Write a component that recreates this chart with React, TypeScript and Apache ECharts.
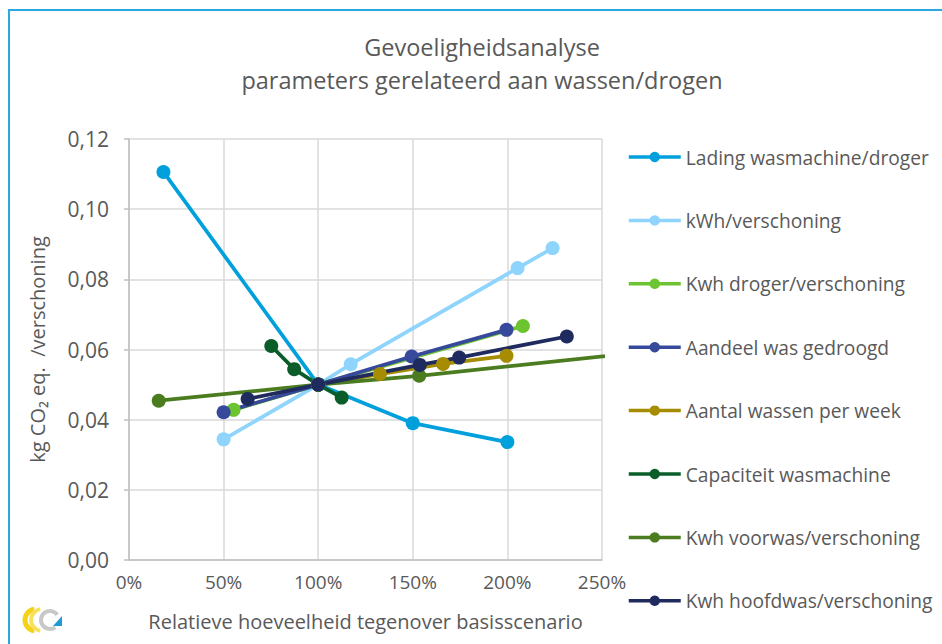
import React, { useEffect, useRef } from "react";
import * as echarts from "echarts";

const seriesNames = [
  "Lading wasmachine/droger",
  "kWh/verschoning",
  "Kwh droger/verschoning",
  "Aandeel was gedroogd",
  "Aantal wassen per week",
  "Capaciteit wasmachine",
  "Kwh voorwas/verschoning",
  "Kwh hoofdwas/verschoning",
];
const seriesColors = ["#00A0DC", "#8ED4FD", "#6CC430", "#36499A", "#A58C00", "#0A5C29", "#4B7C20", "#1F2B5E"];

const ladingX = [18.2, 100, 150, 200];
const ladingY = [0.1106, 0.05, 0.039, 0.0336];
const kwhX = [50, 100, 117.2, 205.4, 223.9];
const kwhY = [0.0344, 0.05, 0.0558, 0.0832, 0.0889];
const drogerX = [55.3, 100, 208.2];
const drogerY = [0.0428, 0.05, 0.0667];
const aandeelX = [50, 100, 149.4, 199.5];
const aandeelY = [0.0421, 0.05, 0.058, 0.0656];
const aantalX = [100, 132.6, 166, 199.5];
const aantalY = [0.05, 0.053, 0.0559, 0.0582];
const capaciteitX = [75.2, 87.3, 100, 112.4];
const capaciteitY = [0.061, 0.0544, 0.05, 0.0463];
const voorwasX = [15.7, 100, 153.4, 300];
const voorwasY = [0.0454, 0.05, 0.0525, 0.0609];
const hoofdwasX = [62.7, 100, 153.7, 174.5, 231.4];
const hoofdwasY = [0.0459, 0.05, 0.0556, 0.0577, 0.0637];

const allX = [ladingX, kwhX, drogerX, aandeelX, aantalX, capaciteitX, voorwasX, hoofdwasX];
const allY = [ladingY, kwhY, drogerY, aandeelY, aantalY, capaciteitY, voorwasY, hoofdwasY];

const FONT = "Open Sans";
const TXT = "#595959";

export default function App() {
  const ref = useRef<HTMLDivElement>(null);
  useEffect(() => {
    if (!ref.current) return;
    const chart = echarts.init(ref.current, undefined, { renderer: "svg" });
    const series = seriesNames.map((name, i) => ({
      name,
      type: "line",
      data: allX[i].map((x, j) => [x, allY[i][j]]),
      symbol: "circle",
      symbolSize: 14,
      showSymbol: true,
      clip: true,
      lineStyle: { width: 3.75, color: seriesColors[i] },
      itemStyle: { color: seriesColors[i] },
      emphasis: { disabled: true },
    }));
    chart.setOption({
      animation: false,
      backgroundColor: "#ffffff",
      textStyle: { fontFamily: FONT },
      title: {
        text: "Gevoeligheidsanalyse\nparameters gerelateerd aan wassen/drogen",
        left: 477,
        top: 25,
        textAlign: "center",
        textStyle: { fontFamily: FONT, fontSize: 23.5, lineHeight: 33, fontWeight: "normal", color: TXT },
      },
      grid: { left: 129, top: 139, right: 340, bottom: 84, containLabel: false },
      legend: {
        orient: "vertical",
        left: 627,
        top: 145,
        padding: 0,
        itemWidth: 52,
        itemHeight: 13,
        itemGap: 39.4,
        data: seriesNames,
        lineStyle: { width: 3.5 },
        textStyle: { fontFamily: FONT, fontSize: 19.2, lineHeight: 24, color: TXT },
        selectedMode: false,
      },
      xAxis: {
        type: "value",
        min: 0,
        max: 250,
        interval: 50,
        name: "Relatieve hoeveelheid tegenover basisscenario",
        nameLocation: "middle",
        nameGap: 51,
        nameTextStyle: { fontFamily: FONT, fontSize: 20, color: TXT },
        axisLine: { show: true, lineStyle: { color: "#BFBFBF", width: 1.5 } },
        axisTick: { show: false },
        axisLabel: { formatter: (v: number) => `${v}%`, fontFamily: FONT, fontSize: 19, color: TXT, margin: 12 },
        splitLine: { show: true, lineStyle: { color: "#D9D9D9", width: 1.5 } },
      },
      yAxis: {
        type: "value",
        min: 0,
        max: 0.12,
        interval: 0.02,
        name: "kg CO₂ eq.  /verschoning",
        nameLocation: "middle",
        nameGap: 82,
        nameTextStyle: { fontFamily: FONT, fontSize: 20, color: TXT },
        axisLine: { show: true, lineStyle: { color: "#BFBFBF", width: 1.5 } },
        axisTick: { show: true, length: 5, lineStyle: { color: "#BFBFBF", width: 1.5 } },
        axisLabel: {
          formatter: (v: number) => v.toFixed(2).replace(".", ","),
          fontFamily: FONT,
          fontSize: 21,
          color: TXT,
          margin: 20,
        },
        splitLine: { show: true, lineStyle: { color: "#D9D9D9", width: 1.5 } },
      },
      graphic: [
        {
          type: "rect",
          shape: { x: 9, y: 10, width: 1000, height: 1000 },
          style: { fill: "none", stroke: "#29A8E0", lineWidth: 2 },
          silent: true,
        },
        {
          type: "arc",
          shape: { cx: 36, cy: 620, r: 11, startAngle: Math.PI * 0.55, endAngle: Math.PI * 1.45 },
          style: { stroke: "#F3D31A", lineWidth: 5, fill: "none" },
          silent: true,
        },
        {
          type: "arc",
          shape: { cx: 42, cy: 620, r: 11, startAngle: Math.PI * 0.55, endAngle: Math.PI * 1.45 },
          style: { stroke: "#F7E05A", lineWidth: 4, fill: "none" },
          silent: true,
        },
        {
          type: "arc",
          shape: { cx: 50, cy: 620, r: 9, startAngle: Math.PI * 0.3, endAngle: Math.PI * 1.8 },
          style: { stroke: "#C8C8C8", lineWidth: 4, fill: "none" },
          silent: true,
        },
        {
          type: "polygon",
          shape: { points: [[53, 626], [62, 626], [62, 616]] },
          style: { fill: "#1E9BD7" },
          silent: true,
        },
      ],
      series,
    });
    return () => chart.dispose();
  }, []);
  return (
    <div
      ref={ref}
      style={{ position: "absolute", left: 0, top: 0, width: 942, height: 644 }}
    />
  );
}
